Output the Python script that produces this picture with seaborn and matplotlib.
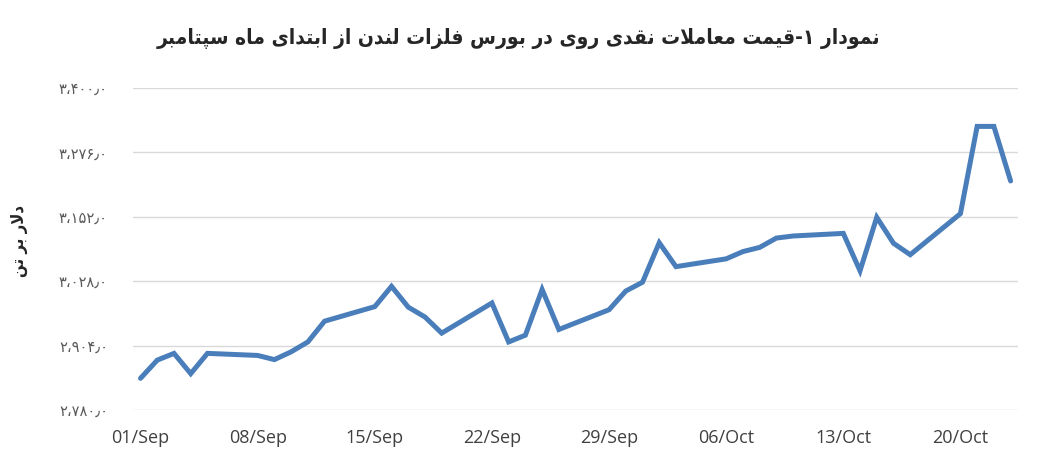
import pandas as pd
import seaborn as sns
import matplotlib.pyplot as plt

# LME zinc cash price, business days from 1 Sep
dates = [
    "2025-09-01", "2025-09-02", "2025-09-03", "2025-09-04", "2025-09-05",
    "2025-09-08", "2025-09-09", "2025-09-10", "2025-09-11", "2025-09-12",
    "2025-09-15", "2025-09-16", "2025-09-17", "2025-09-18", "2025-09-19",
    "2025-09-22", "2025-09-23", "2025-09-24", "2025-09-25", "2025-09-26",
    "2025-09-29", "2025-09-30", "2025-10-01", "2025-10-02", "2025-10-03",
    "2025-10-06", "2025-10-07", "2025-10-08", "2025-10-09", "2025-10-10",
    "2025-10-13", "2025-10-14", "2025-10-15", "2025-10-16", "2025-10-17",
    "2025-10-20", "2025-10-21", "2025-10-22", "2025-10-23",
]
prices = [
    2841, 2876, 2889, 2850, 2889,
    2885, 2877, 2892, 2911, 2951,
    2979, 3018, 2978, 2959, 2928,
    2986, 2911, 2924, 3012, 2935,
    2973, 3009, 3026, 3102, 3056,
    3071, 3085, 3093, 3111, 3115,
    3120, 3048, 3151, 3101, 3079,
    3158, 3326, 3326, 3221,
]

x_tick_dates = ["2025-09-01", "2025-09-08", "2025-09-15", "2025-09-22",
                "2025-09-29", "2025-10-06", "2025-10-13", "2025-10-20"]
x_tick_labels = ["01/Sep", "08/Sep", "15/Sep", "22/Sep",
                 "29/Sep", "06/Oct", "13/Oct", "20/Oct"]
y_ticks = [2780, 2904, 3028, 3152, 3276, 3400]
y_tick_labels = ["۲،۷۸۰٫۰", "۲،۹۰۴٫۰", "۳،۰۲۸٫۰", "۳،۱۵۲٫۰", "۳،۲۷۶٫۰", "۳،۴۰۰٫۰"]

title = "نمودار ۱-قیمت معاملات نقدی روی در بورس فلزات لندن از ابتدای ماه سپتامبر"
ylabel = "دلار بر تن"

# matplotlib has no Arabic shaping, so pick presentation forms by hand
FORMS = {
    'ا': ('\uFE8D', '\uFE8E', None, None),
    'ب': ('\uFE8F', '\uFE90', '\uFE91', '\uFE92'),
    'پ': ('\uFB56', '\uFB57', '\uFB58', '\uFB59'),
    'ت': ('\uFE95', '\uFE96', '\uFE97', '\uFE98'),
    'د': ('\uFEA9', '\uFEAA', None, None),
    'ر': ('\uFEAD', '\uFEAE', None, None),
    'ز': ('\uFEAF', '\uFEB0', None, None),
    'س': ('\uFEB1', '\uFEB2', '\uFEB3', '\uFEB4'),
    'ع': ('\uFEC9', '\uFECA', '\uFECB', '\uFECC'),
    'ف': ('\uFED1', '\uFED2', '\uFED3', '\uFED4'),
    'ق': ('\uFED5', '\uFED6', '\uFED7', '\uFED8'),
    'ل': ('\uFEDD', '\uFEDE', '\uFEDF', '\uFEE0'),
    'م': ('\uFEE1', '\uFEE2', '\uFEE3', '\uFEE4'),
    'ن': ('\uFEE5', '\uFEE6', '\uFEE7', '\uFEE8'),
    'ه': ('\uFEE9', '\uFEEA', '\uFEEB', '\uFEEC'),
    'و': ('\uFEED', '\uFEEE', None, None),
    'ی': ('\uFBFC', '\uFBFD', '\uFBFE', '\uFBFF'),
    'لا': ('\uFEFB', '\uFEFC', None, None),
}


def shape(text):
    tokens = []
    i = 0
    while i < len(text):
        if text[i:i + 2] == 'لا':
            tokens.append('لا')
            i += 2
        else:
            tokens.append(text[i])
            i += 1
    out = []
    for k, t in enumerate(tokens):
        if t not in FORMS:
            out.append(t)
            continue
        prev = tokens[k - 1] if k > 0 else None
        nxt = tokens[k + 1] if k + 1 < len(tokens) else None
        jp = prev in FORMS and FORMS[prev][2] is not None
        jn = FORMS[t][2] is not None and nxt in FORMS
        f = FORMS[t]
        if jp and jn:
            out.append(f[3])
        elif jp:
            out.append(f[1])
        elif jn:
            out.append(f[2])
        else:
            out.append(f[0])
    return "".join(out)[::-1]


df = pd.DataFrame({"date": pd.to_datetime(dates), "price": prices})

sns.set_style("white")
fig, ax = plt.subplots(figsize=(10.38, 4.63), dpi=100)
fig.subplots_adjust(left=0.128, right=0.981, top=0.81, bottom=0.1145)

sns.lineplot(data=df, x="date", y="price", ax=ax, color="#4a7ebb",
             linewidth=3.6, solid_joinstyle="miter")

ax.set_ylim(y_ticks[0], y_ticks[-1])
ax.set_yticks(y_ticks)
ax.set_yticklabels(y_tick_labels, fontsize=10.5, color="#595959",
                   family=["DejaVu Sans"])
ax.set_xlim(pd.Timestamp(dates[0]) - pd.Timedelta(hours=11),
            pd.Timestamp(dates[-1]) + pd.Timedelta(hours=11))
ax.set_xticks(pd.to_datetime(x_tick_dates))
ax.set_xticklabels(x_tick_labels, fontsize=13, color="#404040",
                   family=["Open Sans"])
ax.tick_params(axis="y", length=0, pad=18)
ax.tick_params(axis="x", length=0, pad=14)
ax.grid(axis="y", color="#d9d9d9", linewidth=1)
ax.set_axisbelow(True)
for s in ax.spines.values():
    s.set_visible(False)
ax.set_xlabel("")
ax.set_ylabel("")

fig.text(0.5, 0.917, shape(title), ha="center", va="center",
         fontsize=15, fontweight="bold", fontstretch="condensed",
         family=["DejaVu Sans"])
fig.text(0.018, 0.48, shape(ylabel), ha="center", va="center", rotation=90,
         fontsize=12, fontweight="bold", fontstretch="condensed",
         family=["DejaVu Sans"])

plt.savefig("out.png", dpi=100)
